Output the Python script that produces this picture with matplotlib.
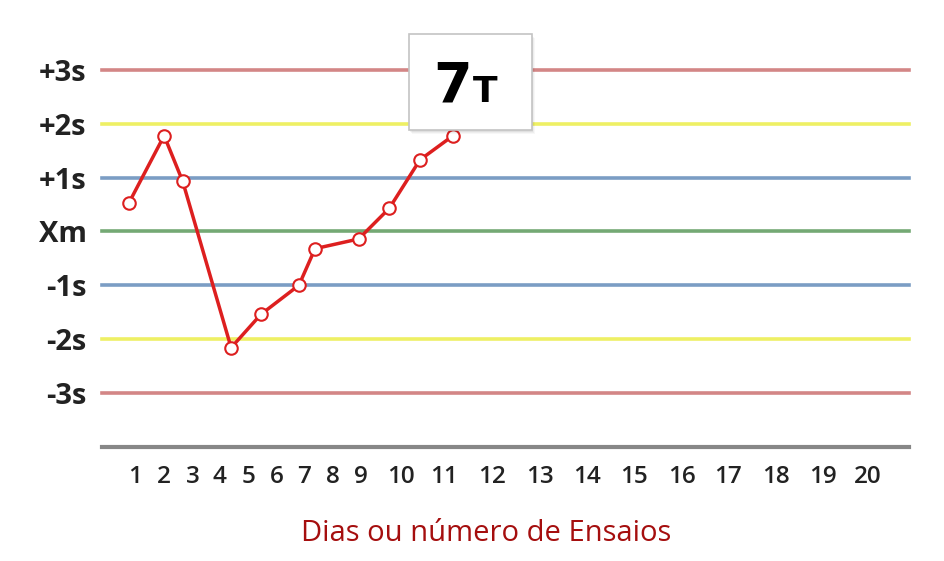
import matplotlib
matplotlib.use('Agg')
import matplotlib.pyplot as plt
from matplotlib.patches import Rectangle

# limit lines (in units of s)
LEVELS = [3, 2, 1, 0, -1, -2, -3]
LEVEL_LABELS = ['+3s', '+2s', '+1s', 'Xm', '-1s', '-2s', '-3s']
LEVEL_COLORS = ['#d38686', '#eef064', '#7b9dc4', '#74a974', '#7b9dc4', '#eef064', '#d38686']
BASE_LEVEL = -4

# x positions read as % of the axis width
TICK_POS = [4.1, 7.6, 11.2, 14.6, 18.1, 21.7, 25.0, 28.6, 32.1, 37.1,
            42.4, 48.3, 54.3, 60.1, 65.9, 71.9, 77.6, 83.5, 89.3, 94.9]
TICK_LABELS = [str(i) for i in range(1, 21)]

POINT_X = [3.3, 7.7, 10.0, 16.0, 19.7, 24.4, 26.4, 31.8, 35.6, 39.4, 43.5]
POINT_Y = [0.52, 1.78, 0.93, -2.16, -1.54, -1.0, -0.32, -0.14, 0.43, 1.33, 1.78]

FONT = 'Open Sans'

fig = plt.figure(figsize=(9.44, 5.61), dpi=100)
ax = fig.add_axes([102 / 944, (561 - 446.7) / 561, 807 / 944, 376.7 / 561])
ax.set_xlim(0, 100)
ax.set_ylim(BASE_LEVEL, 3)

for lv, c in zip(LEVELS, LEVEL_COLORS):
    ax.axhline(lv, color=c, lw=2.6, clip_on=False, zorder=1)
ax.axhline(BASE_LEVEL, color='#878787', lw=3, clip_on=False, zorder=1)

ax.plot(POINT_X, POINT_Y, color='#dd1f1f', lw=2.5, marker='o', ms=9,
        mfc='white', mec='#dd1f1f', mew=1.5, clip_on=False, zorder=3)

for s in ax.spines.values():
    s.set_visible(False)
ax.set_yticks(LEVELS)
ax.set_yticklabels(LEVEL_LABELS, fontsize=21, fontweight='bold', color='#222222', family=FONT)
ax.set_xticks(TICK_POS)
ax.set_xticklabels(TICK_LABELS, fontsize=17.5, fontweight='semibold', color='#222222', family=FONT)
ax.tick_params(length=0)
ax.tick_params(axis='y', pad=11)
ax.tick_params(axis='x', pad=13)
ax.set_xlabel('Dias ou número de Ensaios', fontsize=21, color='#a50e0e', family=FONT, va='baseline')
ax.xaxis.set_label_coords((486 - 102) / 807, -(541 - 446.7) / 376.7)

# label box "7T"
for i, a in enumerate([0.05, 0.04, 0.03]):
    fig.patches.append(Rectangle(((409 + 1 + i) / 944, (561 - 131 - 1 - i) / 561), 123 / 944, 96 / 561,
                                 transform=fig.transFigure, facecolor='black', alpha=a,
                                 edgecolor='none', zorder=4))
fig.patches.append(Rectangle((409 / 944, (561 - 130) / 561), 123 / 944, 96 / 561,
                             transform=fig.transFigure, facecolor='white',
                             edgecolor='#c4c4c4', lw=1.2, zorder=5))
fig.text(472 / 944, (561 - 101.5) / 561, '7', fontsize=40, fontweight='bold',
         ha='right', va='baseline', family='DejaVu Sans', zorder=6)
fig.text(473 / 944, (561 - 101.5) / 561, 'T', fontsize=26, fontweight='bold',
         ha='left', va='baseline', family='DejaVu Sans', zorder=6)

fig.savefig('out.png', dpi=100)
